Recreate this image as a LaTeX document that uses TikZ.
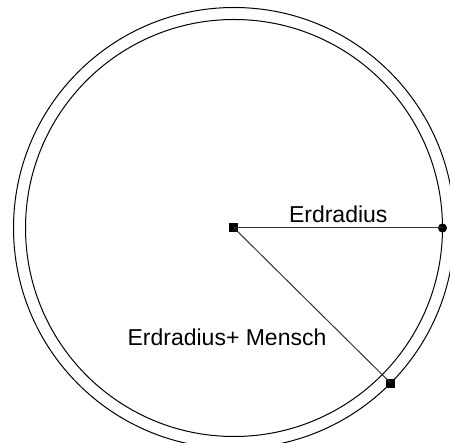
\documentclass[tikz,border=0pt]{standalone}
\usepackage{fontspec}
\setmainfont{Liberation Sans}
\usetikzlibrary{positioning}
\tikzset{
  punktEck/.style={rectangle, fill=black, minimum size=9pt, inner sep=0pt},
  punktRund/.style={circle, fill=black, minimum size=9pt, inner sep=0pt},
  kreisLinie/.style={draw=black, line width=1pt},
  radiusLinie/.style={draw=black!80, line width=1pt},
  beschriftung/.style={font=\fontsize{23}{27}\selectfont, text=black, inner sep=2pt},
}
\begin{document}
\begin{tikzpicture}[x=1pt,y=1pt]
  \useasboundingbox (-234,-215) rectangle (216,228);
  \coordinate (mitte) at (0,0);
  \draw[kreisLinie] (mitte) circle (208.5pt);
  \draw[kreisLinie] (mitte) circle (220.5pt);
  \node[punktEck] (zentrum) at (mitte) {};
  \node[punktRund] (rand) at (0:208.5pt) {};
  \node[punktEck] (mensch) at (-44.7:220.5pt) {};
  \draw[radiusLinie] (zentrum.center) -- node[above=3pt, beschriftung]{Erdradius} (rand.center);
  \draw[radiusLinie] (zentrum.center) -- (mensch.center);
  \node[beschriftung] (menschText) at (-7,-109) {Erdradius+ Mensch};
\end{tikzpicture}
\end{document}
